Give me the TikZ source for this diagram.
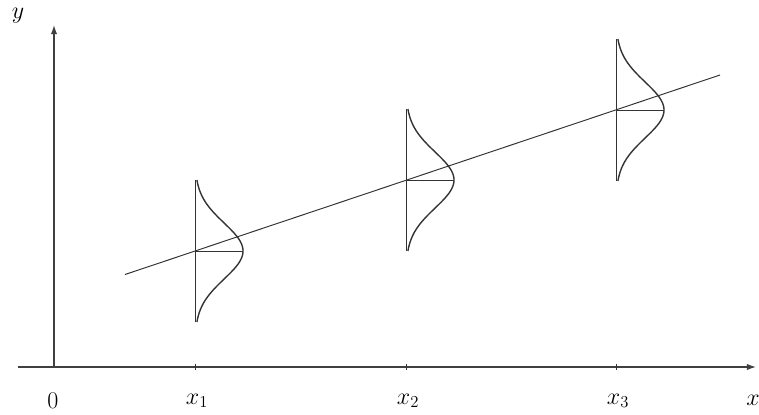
\documentclass[tikz,border=0pt]{standalone}
\usetikzlibrary{arrows.meta,positioning}

\begin{document}
\begin{tikzpicture}[x=0.72pt, y=-0.72pt,
  axis/.style={-{Latex[length=6.5pt,width=4.5pt]}, line width=0.9pt, black!75},
  thinline/.style={line width=0.7pt, black!80},
  bell/.style={line width=1pt, black!80},
  lbl/.style={font=\fontsize{18}{20}\selectfont, inner sep=1pt}
]
  \useasboundingbox (0,0) rectangle (759,414);

  % axes
  \coordinate (xstart) at (18,367);
  \coordinate (origin) at (54,367);
  \coordinate (xend) at (756,367);
  \coordinate (yend) at (54,25);
  \draw[axis] (xstart) -- (xend);
  \draw[axis] (origin) -- (yend);
  \node[lbl] (ylabel) at (18,16) {$y$};
  \node[lbl] (xlabel) at (753,400) {$x$};
  \node[lbl] (zero) at (53,401) {$0$};

  % regression line
  \coordinate (lstart) at (125,274.5);
  \coordinate (lend) at (720,75);
  \draw[thinline] (lstart) -- (lend);

  % conditional densities
  \foreach \i/\px/\py in {1/195/251, 2/406/180, 3/616/110} {
    \coordinate (m\i) at (\px,\py);
    \draw[thinline] (\px,364) -- (\px,370);
    \node[lbl] (x\i) at ({\px+2},401) {$x_\i$};
    \draw[thinline] (\px,{\py-71}) -- (\px,{\py+71});
    \draw[thinline] (m\i) -- ++(48,0);
    \draw[bell] plot[domain=-71:71, samples=80, smooth] ({\px+48*exp(-0.5*(\x/28)^2)}, {\py+\x});
  }
\end{tikzpicture}
\end{document}
